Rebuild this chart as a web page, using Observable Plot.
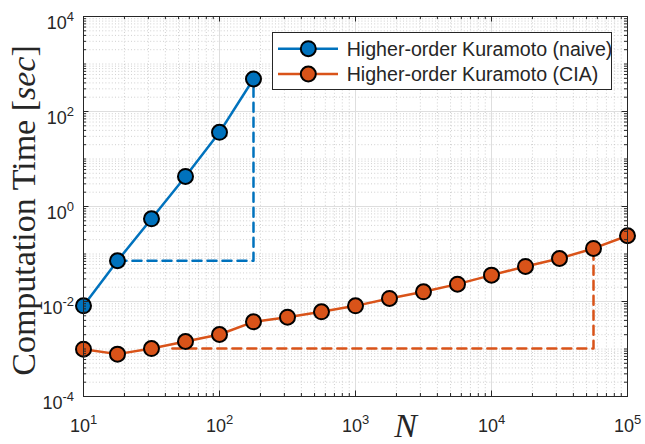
<!DOCTYPE html>
<html><head><meta charset="utf-8">
<script src="https://cdn.jsdelivr.net/npm/d3@7"></script>
<script src="https://cdn.jsdelivr.net/npm/@observablehq/plot@0.6"></script>
<style>body{margin:0;background:#fff;} svg{display:block;}</style>
</head><body><div id="chart"></div>
<script>
// ---- data ----
const naiveN    = [10, 17.78, 31.62, 56.23, 100, 177.8];
const naiveTime = [0.0081, 0.072, 0.55, 4.3, 36.4, 483];
const ciaN      = [10, 17.78, 31.62, 56.23, 100, 177.8, 316.2, 562.3, 1000, 1778, 3162, 5623, 10000, 17783, 31623, 56234, 100000];
const ciaTime   = [0.00099, 0.00078, 0.00102, 0.00144, 0.00202, 0.00373, 0.00468, 0.00607, 0.0081, 0.0116, 0.016, 0.0232, 0.0359, 0.0547, 0.0805, 0.131, 0.242];
const naiveGuideN    = [17.78, 177.8, 177.8];
const naiveGuideTime = [0.072, 0.072, 483];
const ciaGuideN      = [45, 56234, 56234];
const ciaGuideTime   = [0.00102, 0.00102, 0.131];
const seriesNames = ["Higher-order Kuramoto (naive)", "Higher-order Kuramoto (CIA)"];
const xTickExp = [1, 2, 3, 4, 5];
const yTickExp = [-4, -2, 0, 2, 4];
const xLabel = "N";
const yLabel = "Computation Time [sec]";

// ---- style ----
const BLUE = "#0072BD", ORANGE = "#D95319", AX = "#262626";
const W = 645, H = 444, ML = 83, MR = 18, MT = 16, MB = 48;
const PW = W - ML - MR, PH = H - MT - MB;

const toRows = (xs, ys) => xs.map((x, i) => ({N: x, t: ys[i]}));
const naive = toRows(naiveN, naiveTime);
const cia = toRows(ciaN, ciaTime);
const naiveGuide = toRows(naiveGuideN, naiveGuideTime);
const ciaGuide = toRows(ciaGuideN, ciaGuideTime);

const xMajor = xTickExp.map(e => Math.pow(10, e));
const yMajor = yTickExp.map(e => Math.pow(10, e));
const xMinor = [];
for (let e = 1; e < 5; e++) for (let m = 2; m <= 9; m++) xMinor.push(m * Math.pow(10, e));
const yMinor = [];
for (let e = -4; e < 4; e++) {
  if (!yTickExp.includes(e)) yMinor.push(Math.pow(10, e));
  for (let m = 2; m <= 9; m++) yMinor.push(m * Math.pow(10, e));
}
const expFmt = v => "10^" + Math.round(Math.log10(v));

const TMAJ = 5.5, TMIN = 3;
const minorGrid = {stroke: "#c4c4c4", strokeOpacity: 1, strokeWidth: 0.8, strokeDasharray: "1,2.2"};
const majorGrid = {stroke: "#dedede", strokeOpacity: 1, strokeWidth: 1};

const chart = Plot.plot({
  width: W, height: H,
  marginLeft: ML, marginRight: MR, marginTop: MT, marginBottom: MB,
  style: {fontFamily: "'Liberation Sans', Arial, sans-serif", color: AX, background: "white"},
  x: {type: "log", domain: [10, 1e5]},
  y: {type: "log", domain: [1e-4, 1e4]},
  marks: [
    Plot.gridX(xMinor, minorGrid),
    Plot.gridY(yMinor, minorGrid),
    Plot.gridX(xMajor, majorGrid),
    Plot.gridY(yMajor, majorGrid),
    Plot.line(naiveGuide, {x: "N", y: "t", stroke: BLUE, strokeWidth: 2.5, strokeDasharray: "9,6"}),
    Plot.line(ciaGuide, {x: "N", y: "t", stroke: ORANGE, strokeWidth: 2.5, strokeDasharray: "9,6"}),
    Plot.line(naive, {x: "N", y: "t", stroke: BLUE, strokeWidth: 2.5}),
    Plot.line(cia, {x: "N", y: "t", stroke: ORANGE, strokeWidth: 2.5}),
    Plot.dot(naive, {x: "N", y: "t", r: 7.5, fill: BLUE, stroke: "black", strokeWidth: 2}),
    Plot.dot(cia, {x: "N", y: "t", r: 7.5, fill: ORANGE, stroke: "black", strokeWidth: 2}),
    Plot.frame({stroke: AX, strokeWidth: 1}),
    // inward ticks on all four sides
    Plot.tickX(xMajor, {x: d => d, stroke: AX, insetTop: PH - TMAJ}),
    Plot.tickX(xMajor, {x: d => d, stroke: AX, insetBottom: PH - TMAJ}),
    Plot.tickX(xMinor, {x: d => d, stroke: AX, insetTop: PH - TMIN}),
    Plot.tickX(xMinor, {x: d => d, stroke: AX, insetBottom: PH - TMIN}),
    Plot.tickY(yMajor, {y: d => d, stroke: AX, insetRight: PW - TMAJ}),
    Plot.tickY(yMajor, {y: d => d, stroke: AX, insetLeft: PW - TMAJ}),
    Plot.tickY(yMinor, {y: d => d, stroke: AX, insetRight: PW - TMIN}),
    Plot.tickY(yMinor, {y: d => d, stroke: AX, insetLeft: PW - TMIN}),
    // tick labels
    Plot.axisX(xMajor, {anchor: "bottom", tickSize: 0, tickPadding: 23, tickFormat: expFmt, label: null, fontSize: 18, fill: AX}),
    Plot.axisY(yMajor, {anchor: "left", tickSize: 0, tickPadding: 9.5, dy: 6.5, tickFormat: expFmt, label: null, fontSize: 18, fill: AX}),
    // axis titles
    Plot.text([xLabel], {text: d => d, frameAnchor: "bottom", textAnchor: "middle", dx: 50, dy: 40, fontSize: 34, fontStyle: "italic", fontFamily: "'Liberation Serif', 'Times New Roman', serif", fill: AX}),
    Plot.text([yLabel], {text: d => d, frameAnchor: "left", textAnchor: "middle", rotate: -90, dx: -59, dy: 4, fontSize: 34, fontFamily: "'Liberation Serif', 'Times New Roman', serif", fill: AX})
  ]
});

const svg = d3.select(chart);
// superscript exponents on tick labels
svg.selectAll("text").each(function() {
  const t = d3.select(this);
  const m = /^10\^(-?\d+)$/.exec(t.text());
  if (!m) return;
  t.text("10");
  t.append("tspan").attr("dy", -8).attr("font-size", 13).text(m[1]);
});
// italic "sec" in y title
svg.selectAll("text").each(function() {
  const t = d3.select(this);
  if (t.text() !== yLabel) return;
  t.text("");
  t.append("tspan").text("Computation Time [");
  t.append("tspan").attr("font-style", "italic").text("sec");
  t.append("tspan").text("]");
});

// legend
const lg = svg.append("g").attr("font-family", "'Liberation Sans', Arial, sans-serif").attr("text-anchor", "start");
lg.append("rect").attr("x", 272.5).attr("y", 32.5).attr("width", 339).attr("height", 57)
  .attr("fill", "white").attr("stroke", AX).attr("stroke-width", 1);
[[BLUE, 48.7], [ORANGE, 74]].forEach(([c, y], i) => {
  lg.append("line").attr("x1", 278).attr("x2", 338).attr("y1", y).attr("y2", y)
    .attr("stroke", c).attr("stroke-width", 2.5);
  lg.append("circle").attr("cx", 308.3).attr("cy", y).attr("r", 7.5)
    .attr("fill", c).attr("stroke", "black").attr("stroke-width", 2);
  lg.append("text").attr("x", 346.7).attr("y", y + 6.8).attr("font-size", 19.6)
    .attr("text-anchor", "start").attr("fill", AX).text(seriesNames[i]);
});

document.getElementById("chart").append(chart);
</script>
</body></html>
